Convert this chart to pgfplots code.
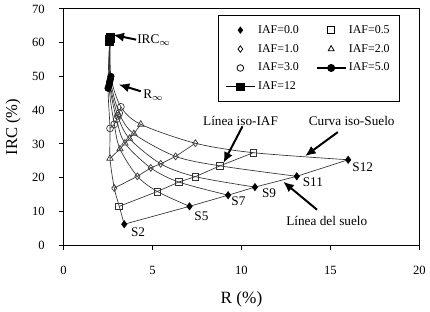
\documentclass[border=0pt]{standalone}
\usepackage{fontspec}
\setmainfont{Liberation Serif}
\usepackage{pgfplots}
\pgfplotsset{compat=1.18}
\usetikzlibrary{arrows.meta}
\begin{document}
\begin{tikzpicture}
\begin{axis}[
  scale only axis, width=268.5pt, height=178.3pt,
  xmin=0, xmax=20, ymin=0, ymax=70,
  xtick={0,5,10,15,20}, ytick={0,10,20,30,40,50,60,70},
  tick align=outside, major tick length=3.75pt,
  xtick pos=left, ytick pos=left,
  axis line style={line width=0.7pt},
  every tick/.style={black, line width=0.7pt},
  /pgf/number format/assume math mode=true,
  tick label style={font=\fontsize{9.5}{11}\selectfont},
  xticklabel style={anchor=center, yshift=-15pt},
  yticklabel style={anchor=east, xshift=-7pt},
  xlabel={R (\%)}, ylabel={IRC (\%)},
  every axis x label/.style={at={([yshift=-41pt]axis description cs:0.5,0)}, anchor=center, font=\fontsize{13}{15}\selectfont},
  every axis y label/.style={at={([xshift=-38pt]axis description cs:0,0.5)}, rotate=90, anchor=center, font=\fontsize{12.5}{14}\selectfont},
  legend columns=2,
  legend cell align=left,
  legend image code/.code={\draw[mark repeat=2,mark phase=2,#1] plot coordinates {(0cm,0cm) (0.385cm,0cm) (0.77cm,0cm)};},
  legend style={at={(0.944,0.975)}, anchor=north east, draw=black, line width=0.6pt,
    font=\fontsize{9}{10}\selectfont, inner xsep=5pt, inner ysep=5.5pt, row sep=2.8pt,
    /tikz/every even column/.append style={column sep=11pt}},
]
% iso-soil curves
\pgfplotsset{soil/.style={forget plot, no marks, smooth, tension=0.5, black!80, line width=0.5pt}}
\addplot[soil] coordinates {(3.41,6.2)(3.13,11.5)(2.85,16.9)(2.61,25.7)(2.61,34.6)(2.50,46.5)(2.58,60.5)};
\addplot[soil] coordinates {(7.08,11.5)(5.27,15.9)(4.15,20.4)(3.17,28.5)(2.85,35.8)(2.55,47.3)(2.60,60.8)};
\addplot[soil] coordinates {(9.25,14.8)(6.48,18.7)(4.90,22.9)(3.45,30.2)(2.98,37.3)(2.58,48.0)(2.60,61.0)};
\addplot[soil] coordinates {(10.76,17.2)(7.41,20.3)(5.46,24.1)(3.70,31.6)(3.05,38.3)(2.60,48.6)(2.61,61.2)};
\addplot[soil] coordinates {(13.11,20.4)(8.79,23.5)(6.30,26.3)(3.95,33.0)(3.13,39.1)(2.63,49.2)(2.62,61.4)};
\addplot[soil] coordinates {(16.0,25.3)(10.67,27.4)(7.41,30.2)(4.34,35.8)(3.22,41.0)(2.66,50.0)(2.63,61.6)};
% iso-IAF lines
\pgfplotsset{iaf/.style={forget plot, black!80, line width=0.5pt, mark options={solid, black, line width=0.6pt}}}
\addplot[iaf, mark=diamond*, mark size=2.6pt] coordinates {(3.41,6.2)(7.08,11.5)(9.25,14.8)(10.76,17.2)(13.11,20.4)(16.0,25.3)};
\addplot[iaf, mark=square, mark size=2.6pt, mark options={fill=white}] coordinates {(3.13,11.5)(5.27,15.9)(6.48,18.7)(7.41,20.3)(8.79,23.5)(10.67,27.4)};
\addplot[iaf, mark=diamond, mark size=2.6pt, mark options={fill=white}] coordinates {(2.85,16.9)(4.15,20.4)(4.90,22.9)(5.46,24.1)(6.30,26.3)(7.41,30.2)};
\addplot[iaf, mark=triangle, mark size=2.8pt, mark options={fill=white}] coordinates {(2.61,25.7)(3.17,28.5)(3.45,30.2)(3.70,31.6)(3.95,33.0)(4.34,35.8)};
\addplot[iaf, mark=o, mark size=2.6pt, mark options={fill=white}] coordinates {(2.61,34.6)(2.85,35.8)(2.98,37.3)(3.05,38.3)(3.13,39.1)(3.22,41.0)};
\addplot[iaf, mark=*, mark size=2.4pt] coordinates {(2.50,46.5)(2.55,47.3)(2.58,48.0)(2.60,48.6)(2.63,49.2)(2.66,50.0)};
\addplot[iaf, mark=square*, mark size=3pt] coordinates {(2.58,60.5)(2.60,60.8)(2.60,61.0)(2.61,61.2)(2.62,61.4)(2.63,61.6)};
% legend
\addlegendimage{/tikz/only marks, mark=diamond*, mark size=2.3pt, black}
\addlegendentry{IAF=0.0}
\addlegendimage{/tikz/only marks, mark=square, mark size=2.5pt, black}
\addlegendentry{IAF=0.5}
\addlegendimage{/tikz/only marks, mark=diamond, mark size=2.4pt, black}
\addlegendentry{IAF=1.0}
\addlegendimage{/tikz/only marks, mark=triangle, mark size=2.6pt, black}
\addlegendentry{IAF=2.0}
\addlegendimage{/tikz/only marks, mark=o, mark size=2.5pt, black}
\addlegendentry{IAF=3.0}
\addlegendimage{mark=*, mark size=2.6pt, black, line width=0.8pt}
\addlegendentry{IAF=5.0}
\addlegendimage{mark=square*, mark size=2.8pt, black, line width=0.8pt}
\addlegendentry{IAF=12}
% annotations
\tikzset{ann/.style={font=\fontsize{10}{12}\selectfont, inner sep=0pt}, arr/.style={-{Latex[length=8pt,width=7pt]}, line width=1.5pt, black}}
\draw[arr] (axis cs:4.08,60.9) -- (axis cs:2.80,62.3);
\node[ann, anchor=west] at (axis cs:4.13,60.9) {IRC\textsubscript{$\infty$}};
\draw[arr] (axis cs:4.34,45.6) -- (axis cs:3.10,47.6);
\node[ann, anchor=west] at (axis cs:4.47,44.5) {R\textsubscript{$\infty$}};
\node[ann] at (axis cs:9.95,36.7) {Línea iso-IAF};
\draw[arr] (axis cs:10.06,35.2) -- (axis cs:8.99,24.4);
\node[ann] at (axis cs:16.2,36.7) {Curva iso-Suelo};
\draw[arr] (axis cs:15.42,33.5) -- (axis cs:13.58,26.4);
\node[ann] at (axis cs:14.8,7.3) {Línea del suelo};
\draw[arr] (axis cs:14.25,10.5) -- (axis cs:12.35,18.8);
\node[ann] at (axis cs:4.19,3.9) {S2};
\node[ann] at (axis cs:7.75,8.7) {S5};
\node[ann] at (axis cs:9.83,12.9) {S7};
\node[ann] at (axis cs:11.55,15.4) {S9};
\node[ann] at (axis cs:14.02,18.6) {S11};
\node[ann] at (axis cs:16.82,23.0) {S12};
\end{axis}
\path[use as bounding box] ([xshift=-48pt,yshift=-49pt]current axis.south west) rectangle ([xshift=6pt,yshift=6.75pt]current axis.north east);
\end{tikzpicture}
\end{document}
